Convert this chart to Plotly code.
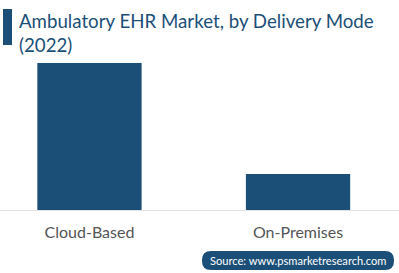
import plotly.graph_objects as go

categories = ["Cloud-Based", "On-Premises"]
values = [80.3, 19.7]
title_text = "Ambulatory EHR Market, by Delivery Mode<br>(2022)"
source_text = "Source: www.psmarketresearch.com"

W, H = 399, 273
T, B = 50, 210  # plot area top/bottom in px
BLUE = "#1b4f77"

def px_x(p):
    return p / W

def px_y(p):
    return (B - p) / (B - T)

fig = go.Figure(go.Bar(x=categories, y=values, marker_color=BLUE, width=0.5,
                       marker_line_width=0))

# rounded source badge
x0, x1, y0, y1, r = 202, 394, 251, 270, 9
def P(x, y):
    return f"{px_x(x):.5f},{px_y(y):.5f}"
path = (f"M {P(x0+r, y0)} L {P(x1-r, y0)} Q {P(x1, y0)} {P(x1, y0+r)} "
        f"L {P(x1, y1-r)} Q {P(x1, y1)} {P(x1-r, y1)} L {P(x0+r, y1)} "
        f"Q {P(x0, y1)} {P(x0, y1-r)} L {P(x0, y0+r)} Q {P(x0, y0)} {P(x0+r, y0)} Z")

fig.update_layout(
    width=W, height=H,
    margin=dict(l=0, r=0, t=T, b=H - B),
    paper_bgcolor="white", plot_bgcolor="white",
    bargap=0.5,
    showlegend=False,
    font=dict(family="Lato", color="#555555"),
    xaxis=dict(range=[-0.429, 1.484], showline=True, linecolor="#e3e3e3", linewidth=1,
               tickfont=dict(size=16, color="#555555"), ticks="", showgrid=False,
               ticklabelstandoff=8, fixedrange=True),
    yaxis=dict(range=[0, 87.4], visible=False, showgrid=False, fixedrange=True),
    shapes=[
        dict(type="rect", xref="paper", yref="paper", x0=px_x(3), x1=px_x(12),
             y0=px_y(45), y1=px_y(9), fillcolor=BLUE, line_width=0),
        dict(type="path", xref="paper", yref="paper", path=path, fillcolor=BLUE,
             line_width=0),
    ],
    annotations=[
        dict(text=title_text, xref="paper", yref="paper", x=px_x(17), y=px_y(8),
             xanchor="left", yanchor="top", showarrow=False, align="left",
             font=dict(size=18.7, color=BLUE, family="Lato")),
        dict(text=source_text, xref="paper", yref="paper", x=px_x((x0 + x1) / 2),
             y=px_y((y0 + y1) / 2), xanchor="center", yanchor="middle", showarrow=False,
             font=dict(size=11.1, color="white", family="Lato")),
    ],
)

fig.write_html("out.html")
